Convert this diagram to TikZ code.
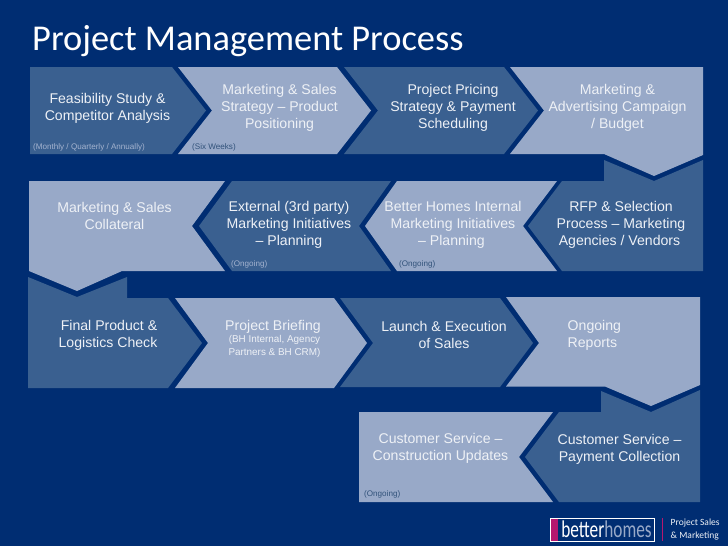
\documentclass[tikz,border=0pt]{standalone}
\usepackage{fontspec}
\setmainfont{Liberation Sans}
\newfontfamily\titlefont{Carlito}
\definecolor{navybg}{HTML}{002D72}
\definecolor{darkblue}{HTML}{3A6090}
\definecolor{lightblue}{HTML}{98A9C8}
\definecolor{palete}{HTML}{EEF1F6}
\definecolor{magentabar}{HTML}{B5176F}
\tikzset{
  darkshape/.style={fill=darkblue},
  lightshape/.style={fill=lightblue},
  lab/.style={text=palete,align=center,inner sep=0pt,yshift=-1pt,font=\fontsize{14.1}{17}\selectfont},
  lableft/.style={lab,align=left},
  sub/.style={text=palete,align=center,inner sep=0pt,font=\fontsize{9.9}{12.5}\selectfont},
  noteD/.style={text=white!12!lightblue,anchor=west,inner sep=0pt,font=\fontsize{8.1}{9}\selectfont},
  noteL/.style={text=darkblue!85!black,anchor=west,inner sep=0pt,font=\fontsize{8.1}{9}\selectfont},
}
\begin{document}
\begin{tikzpicture}[x=1pt,y=-1pt]
\useasboundingbox (0,0) rectangle (728,546);
\fill[navybg] (0,0) rectangle (728,546);
% row 1
\fill[darkshape] (30,67)--(172,67)--(206,110.5)--(172,154)--(30,154)--cycle;
\fill[lightshape] (178,67)--(337,67)--(371,110.5)--(337,154)--(178,154)--(212,110.5)--cycle;
\fill[darkshape] (344,67)--(504,67)--(538,110.5)--(504,154)--(344,154)--(378,110.5)--cycle;
\fill[lightshape] (510,67)--(703,67)--(703,155)--(654,176)--(604,154)--(510,154)--(544,110.5)--cycle;
% row 2
\fill[darkshape] (604,160)--(654,181)--(703,160)--(703,271)--(562,271)--(528,226)--(562,181)--(604,181)--cycle;
\fill[lightshape] (557,181)--(523,226)--(557,271)--(397,271)--(365,226)--(397,181)--cycle;
\fill[darkshape] (391,181)--(359,226)--(391,271)--(232,271)--(199,226)--(232,181)--cycle;
\fill[lightshape] (225,181)--(192,226)--(225,271)--(122,271)--(77,291)--(29,271)--(29,181)--cycle;
% row 3
\fill[darkshape] (28,277)--(77,297)--(127,277)--(127,298)--(168,298)--(202,343)--(168,388)--(28,388)--cycle;
\fill[lightshape] (175,298)--(334,298)--(367,343)--(334,388)--(175,388)--(208,343)--cycle;
\fill[darkshape] (340,298)--(500,298)--(533,343)--(500,387)--(340,387)--(373,343)--cycle;
\fill[lightshape] (506,297)--(700,297)--(700,385)--(651,406)--(605,386.5)--(506,386.5)--(539,343)--cycle;
% row 4
\fill[darkshape] (601,391)--(651,412)--(700,390)--(700,502)--(559,502)--(525,457)--(559,412)--(601,412)--cycle;
\fill[lightshape] (553,412)--(519,457)--(553,502)--(359,502)--(359,412)--cycle;
% title
\node[anchor=west,inner sep=0pt,text=white,font=\titlefont\fontsize{36.4}{38}\selectfont] (title) at (32,41) {Project Management Process};
% labels
\node[lab] (a1) at (107.5,107) {Feasibility Study \&\\Competitor Analysis};
\node[lab] (a2) at (279.5,106.5) {Marketing \& Sales\\Strategy – Product\\Positioning};
\node[lab] (a3) at (453,106.5) {Project Pricing\\Strategy \& Payment\\Scheduling};
\node[lab] (a4) at (617.5,106.5) {Marketing \&\\Advertising Campaign\\/ Budget};
\node[lab] (b1) at (621,223.5) {RFP \& Selection\\Process – Marketing\\Agencies / Vendors\hspace*{3pt}};
\node[lab] (b2) at (453,223.5) {Better Homes Internal\\Marketing Initiatives\\– Planning\hspace*{3pt}};
\node[lab] (b3) at (289,223.5) {External (3rd party)\\Marketing Initiatives\\– Planning};
\node[lab] (b4) at (114.5,215) {Marketing \& Sales\\Collateral};
\node[lab] (c1) at (109,334) {Final Product \&\\Logistics Check\hspace*{2pt}};
\node[lab] (c2) at (273,325.5) {Project Briefing};
\node[sub] (c2s) at (274.5,346.5) {(BH Internal, Agency\\Partners \& BH CRM)};
\node[lab] (c3) at (444,334) {Launch \& Execution\\of Sales};
\node[lableft,anchor=west] (c4) at (567.5,334) {Ongoing\\Reports};
\node[lab] (d1) at (619.5,448) {Customer Service –\\Payment Collection};
\node[lab] (d2) at (440.5,447) {Customer Service –\\Construction Updates};
% notes
\node[noteD] (n1) at (33,147) {(Monthly / Quarterly / Annually)};
\node[noteL] (n2) at (192,147) {(Six Weeks)};
\node[noteD] (n3) at (231,264) {(Ongoing)};
\node[noteL] (n4) at (399,264) {(Ongoing)};
\node[noteL] (n5) at (364,494) {(Ongoing)};
% logo
\draw[white,fill=navybg,line width=0.8pt] (550.5,518.5) rectangle (654,541);
\fill[magentabar] (551,519) rectangle (558,540.5);
\node[text=white,inner sep=0pt,xscale=0.72,transform shape,font=\titlefont\fontsize{24}{25}\selectfont] (logo) at (606.5,529) {better\textcolor{lightblue}{homes}};
\fill[magentabar] (661.5,518) rectangle (663,541);
\node[text=palete,inner sep=0pt,anchor=west,font=\titlefont\fontsize{9.5}{11}\selectfont] (tag1) at (670.5,523) {Project Sales};
\node[text=palete,inner sep=0pt,anchor=west,font=\titlefont\fontsize{9.5}{11}\selectfont] (tag2) at (670.5,536.5) {\& Marketing};
\end{tikzpicture}
\end{document}
